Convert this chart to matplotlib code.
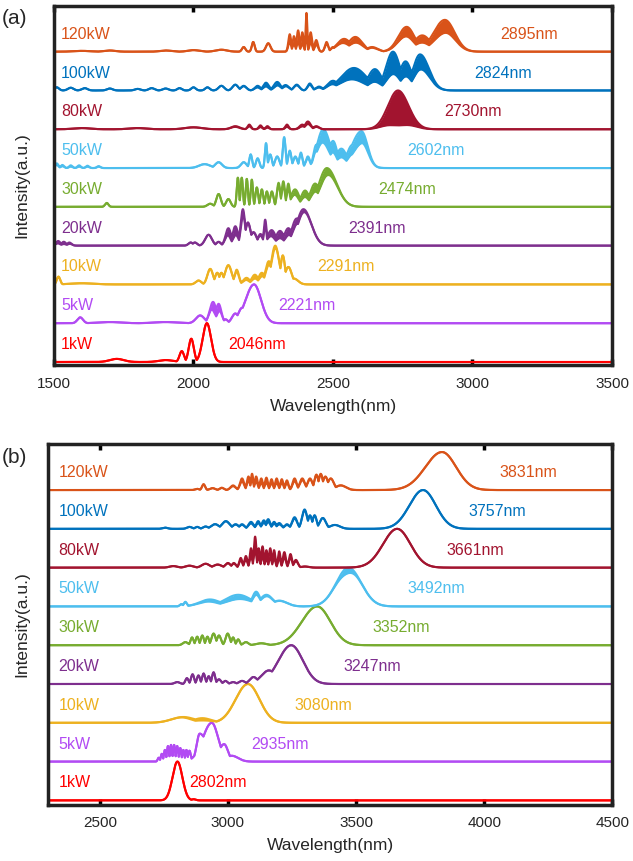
import numpy as np
import matplotlib
matplotlib.use("Agg")
import matplotlib.pyplot as plt

plt.rcParams['font.family'] = ['Liberation Sans', 'DejaVu Sans']

powers = ["1kW", "5kW", "10kW", "20kW", "30kW", "50kW", "80kW", "100kW", "120kW"]
colors = ["#FF0000", "#B24BF3", "#EDB120", "#7E2F8E", "#77AC30",
          "#4DBEEE", "#A2142F", "#0072BD", "#D95319"]

# panel (a): peak labels
labels_a = ["2046nm", "2221nm", "2291nm", "2391nm", "2474nm",
            "2602nm", "2730nm", "2824nm", "2895nm"]
label_x_a = [2124, 2303, 2443, 2555, 2661, 2765, 2898, 3005, 3100]
# panel (b): peak labels
labels_b = ["2802nm", "2935nm", "3080nm", "3247nm", "3352nm",
            "3492nm", "3661nm", "3757nm", "3831nm"]
label_x_b = [2850, 3089, 3260, 3452, 3562, 3701, 3851, 3937, 4060]

# spectral features:
# (centre nm, height, width nm) or (centre, height, left width, right width)
peaks_a = [
    [(1725, 0.08, 25), (1900, 0.05, 25), (1958, 0.28, 8), (1992, 0.6, 9), (2048, 1.0, 15)],
    [(1594, 0.15, 10), (1700, 0.03, 40), (1900, 0.03, 40), (2024, 0.2, 15), (2070, 0.55, 12),
     (2090, 0.5, 10), (2115, 0.1, 8), (2150, 0.25, 12), (2175, 0.4, 15), (2217, 1.0, 30, 25)],
    [(1516, 0.2, 6), (1600, 0.03, 40), (2018, 0.1, 10), (2060, 0.4, 10), (2085, 0.3, 8),
     (2100, 0.3, 8), (2125, 0.5, 12), (2155, 0.38, 8), (2190, 0.17, 12), (2220, 0.25, 12),
     (2245, 0.3, 12), (2270, 0.6, 12), (2293, 1.0, 14), (2320, 0.75, 8), (2340, 0.45, 12),
     (2360, 0.15, 15)],
    [(1515, 0.12, 8), (1535, 0.1, 8), (1555, 0.08, 8), (1990, 0.08, 8), (2005, 0.08, 8),
     (2054, 0.28, 12), (2090, 0.1, 8), (2125, 0.45, 10), (2150, 0.5, 10), (2177, 0.94, 8),
     (2195, 0.6, 10), (2215, 0.35, 12), (2240, 0.3, 10), (2257, 0.67, 5), (2280, 0.4, 15),
     (2310, 0.38, 15), (2340, 0.45, 15), (2370, 0.7, 18), (2394, 0.94, 24, 28)],
    [(1689, 0.1, 6), (2060, 0.08, 10), (2090, 0.33, 8), (2125, 0.2, 8), (2159, 0.75, 4),
     (2173, 0.75, 4), (2191, 0.72, 4), (2209, 0.7, 4), (2227, 0.5, 5), (2245, 0.45, 5),
     (2263, 0.4, 5), (2281, 0.4, 6), (2305, 0.62, 6), (2322, 0.66, 6), (2340, 0.6, 6),
     (2364, 0.45, 15), (2400, 0.42, 15), (2436, 0.6, 18), (2478, 1.0, 28, 35)],
    [(1510, 0.12, 6), (1530, 0.08, 6), (1560, 0.07, 6), (1590, 0.07, 6), (1620, 0.06, 6),
     (1660, 0.05, 6), (2040, 0.1, 20), (2090, 0.15, 12), (2180, 0.15, 10), (2205, 0.35, 5),
     (2230, 0.25, 6), (2260, 0.64, 4), (2275, 0.35, 6), (2300, 0.3, 8), (2325, 0.8, 5),
     (2345, 0.45, 6), (2365, 0.3, 8), (2385, 0.4, 6), (2410, 0.3, 8), (2440, 0.6, 10),
     (2465, 1.0, 22, 25), (2500, 0.7, 15), (2530, 0.5, 20), (2570, 0.6, 20),
     (2602, 0.95, 35, 22)],
    [(1600, 0.03, 30), (1800, 0.03, 30), (2000, 0.05, 30), (2150, 0.08, 15), (2200, 0.12, 6),
     (2240, 0.1, 6), (2265, 0.08, 6), (2335, 0.12, 6), (2390, 0.12, 10), (2410, 0.2, 10),
     (2440, 0.08, 10), (2733, 1.0, 36, 38)],
    [(1510, 0.08, 8), (1560, 0.07, 10), (1610, 0.06, 10), (1700, 0.05, 10), (1800, 0.04, 10),
     (1850, 0.06, 10), (1900, 0.05, 10), (1950, 0.06, 8), (2000, 0.08, 8), (2050, 0.08, 8),
     (2100, 0.12, 10), (2150, 0.15, 10), (2180, 0.12, 10), (2230, 0.12, 10), (2260, 0.2, 10),
     (2300, 0.22, 12), (2330, 0.14, 12), (2370, 0.15, 10), (2417, 0.18, 8), (2450, 0.1, 12),
     (2500, 0.25, 20), (2575, 0.58, 45), (2650, 0.55, 25), (2715, 1.0, 25), (2760, 0.75, 22),
     (2812, 0.93, 25, 32)],
    [(1600, 0.02, 30), (1700, 0.03, 20), (1900, 0.03, 20), (2000, 0.04, 20), (2100, 0.05, 20),
     (2180, 0.12, 6), (2214, 0.25, 5), (2268, 0.22, 8), (2345, 0.45, 5), (2360, 0.4, 5),
     (2375, 0.55, 5), (2390, 0.5, 5), (2405, 1.0, 3), (2420, 0.5, 5), (2440, 0.3, 6),
     (2477, 0.25, 6), (2500, 0.12, 8), (2540, 0.33, 25), (2580, 0.38, 25), (2640, 0.12, 20),
     (2764, 0.64, 30, 28), (2820, 0.42, 30), (2901, 0.82, 40, 35)],
]
# dense fringe regions: (centre nm, modulation depth, width nm)
bands_a = [
    [],
    [(2080, 0.5, 15)],
    [(2215, 0.4, 40)],
    [(1530, 0.6, 30), (2140, 0.5, 25), (2310, 0.5, 45)],
    [(2405, 0.4, 60)],
    [(1580, 0.5, 80), (2530, 0.45, 90)],
    [(2300, 0.5, 120), (2733, 0.9, 90)],
    [(2270, 0.5, 50), (2670, 0.6, 170)],
    [(2390, 0.6, 55), (2570, 0.4, 50), (2840, 0.45, 140)],
]

peaks_b = [
    [(2803, 1.0, 19), (2866, 0.03, 8)],
    [(2730, 0.1, 4), (2742, 0.2, 4), (2754, 0.3, 4), (2766, 0.4, 4), (2778, 0.43, 4),
     (2790, 0.43, 4), (2802, 0.4, 4), (2814, 0.35, 4), (2826, 0.3, 4), (2838, 0.3, 4),
     (2850, 0.28, 5), (2890, 0.72, 12, 30), (2937, 1.0, 35, 25), (2985, 0.45, 20, 15),
     (3015, 0.15, 20, 25)],
    [(2826, 0.15, 45), (2900, 0.12, 35), (3078, 1.0, 48, 45)],
    [(2802, 0.05, 10), (2840, 0.15, 6), (2862, 0.25, 6), (2885, 0.22, 6), (2905, 0.27, 6),
     (2925, 0.2, 6), (2944, 0.3, 6), (2965, 0.12, 8), (2990, 0.08, 8), (3020, 0.05, 10),
     (3055, 0.08, 12), (3100, 0.18, 15), (3160, 0.35, 30), (3247, 1.0, 50, 45)],
    [(2834, 0.08, 10), (2860, 0.2, 6), (2880, 0.22, 6), (2900, 0.25, 6), (2920, 0.22, 6),
     (2944, 0.3, 8), (2965, 0.25, 8), (2999, 0.3, 8), (3020, 0.2, 6), (3040, 0.15, 6),
     (3070, 0.08, 10), (3130, 0.05, 20), (3348, 1.0, 60, 52)],
    [(2818, 0.06, 6), (2834, 0.12, 6), (2930, 0.18, 40), (3040, 0.3, 50), (3110, 0.38, 15),
     (3150, 0.3, 25), (3200, 0.15, 30), (3470, 1.0, 48, 50)],
    [(2787, 0.04, 15), (2850, 0.05, 15), (2913, 0.1, 15), (2960, 0.08, 15), (3000, 0.12, 10),
     (3023, 0.12, 8), (3050, 0.25, 6), (3070, 0.3, 6), (3090, 0.5, 5), (3106, 0.8, 5),
     (3120, 0.5, 5), (3135, 0.55, 5), (3150, 0.45, 5), (3165, 0.5, 5), (3180, 0.45, 5),
     (3200, 0.42, 5), (3220, 0.4, 6), (3244, 0.35, 6), (3265, 0.2, 8), (3300, 0.03, 15),
     (3660, 1.0, 55, 52)],
    [(2755, 0.03, 10), (2850, 0.05, 10), (2880, 0.05, 8), (2913, 0.06, 10), (2950, 0.12, 15),
     (2992, 0.2, 15), (3030, 0.12, 12), (3055, 0.12, 10), (3090, 0.18, 10), (3118, 0.2, 8),
     (3140, 0.22, 8), (3157, 0.25, 8), (3180, 0.18, 8), (3200, 0.15, 10), (3230, 0.12, 10),
     (3260, 0.3, 10), (3299, 0.5, 10), (3320, 0.35, 8), (3338, 0.35, 8), (3370, 0.28, 12),
     (3417, 0.1, 20), (3761, 1.0, 53, 50)],
    [(2880, 0.03, 8), (2905, 0.15, 6), (2940, 0.05, 10), (2976, 0.06, 8), (3020, 0.12, 10),
     (3055, 0.3, 8), (3080, 0.35, 6), (3094, 0.42, 5), (3110, 0.35, 6), (3130, 0.3, 6),
     (3150, 0.32, 6), (3170, 0.28, 6), (3190, 0.3, 6), (3210, 0.28, 6), (3230, 0.25, 6),
     (3260, 0.3, 8), (3290, 0.3, 10), (3320, 0.3, 10), (3345, 0.4, 8), (3362, 0.42, 8),
     (3380, 0.35, 10), (3401, 0.3, 12), (3440, 0.12, 20), (3835, 0.98, 65, 55)],
]
bands_b = [
    [],
    [],
    [(2900, 0.5, 40)],
    [],
    [],
    [(3000, 0.4, 100), (3460, 0.15, 30)],
    [(3150, 0.5, 80)],
    [(3150, 0.3, 80)],
    [(3150, 0.4, 100)],
]


def envelope(x, comps):
    out = np.zeros_like(x)
    for comp in comps:
        c, h, wl = comp[:3]
        wr = comp[3] if len(comp) > 3 else wl
        w = np.where(x < c, wl, wr)
        out = np.maximum(out, h * np.exp(-0.5 * ((x - c) / w) ** 2))
    return out


def draw_panel(ax, xlim, ylim, peaks, bands, labels, label_x, power_x, xticks):
    x = np.linspace(xlim[0], xlim[1], 6000)
    for i in range(len(powers)):
        up = envelope(x, peaks[i])
        lo = up * (1 - envelope(x, bands[i]))
        c = colors[i]
        ax.fill_between(x, lo + i, up + i, color=c, lw=0)
        ax.plot(x, up + i, color=c, lw=1.5)
        ax.plot(x, lo + i, color=c, lw=1.5)
        ax.text(power_x, i + 0.45, powers[i], color=c, fontsize=11.5, va='center')
        ax.text(label_x[i], i + 0.45, labels[i], color=c, fontsize=11.5, va='center')
    ax.set_xlim(*xlim)
    ax.set_ylim(*ylim)
    ax.set_yticks([])
    ax.set_xticks(xticks)
    ax.tick_params(axis='x', direction='in', top=True, length=4, width=2.5,
                   labelsize=11, pad=8, labelcolor='#262626')
    for s in ax.spines.values():
        s.set_linewidth(2.5)
        s.set_color('#222222')
    ax.set_xlabel("Wavelength(nm)", fontsize=12.5, labelpad=6, color='#262626')


fig = plt.figure(figsize=(6.33, 8.61), dpi=100)
ax1 = fig.add_axes([0.0853, 0.5755, 0.8815, 0.4181])
ax2 = fig.add_axes([0.0766, 0.0650, 0.8910, 0.4199])

draw_panel(ax1, (1500, 3500), (-0.09, 9.19), peaks_a, bands_a, labels_a, label_x_a,
           1525, [1500, 2000, 2500, 3000, 3500])
draw_panel(ax2, (2300, 4500), (-0.12, 9.2), peaks_b, bands_b, labels_b, label_x_b,
           2340, [2500, 3000, 3500, 4000, 4500])

fig.text(0.002, 0.979, "(a)", fontsize=15, va='center', color='#262626')
fig.text(0.002, 0.469, "(b)", fontsize=15, va='center', color='#262626')
fig.text(0.035, 0.785, "Intensity(a.u.)", fontsize=12.5, rotation=90, ha='center',
         va='center', color='#262626')
fig.text(0.035, 0.275, "Intensity(a.u.)", fontsize=12.5, rotation=90, ha='center',
         va='center', color='#262626')

fig.savefig("out.png", dpi=100)
